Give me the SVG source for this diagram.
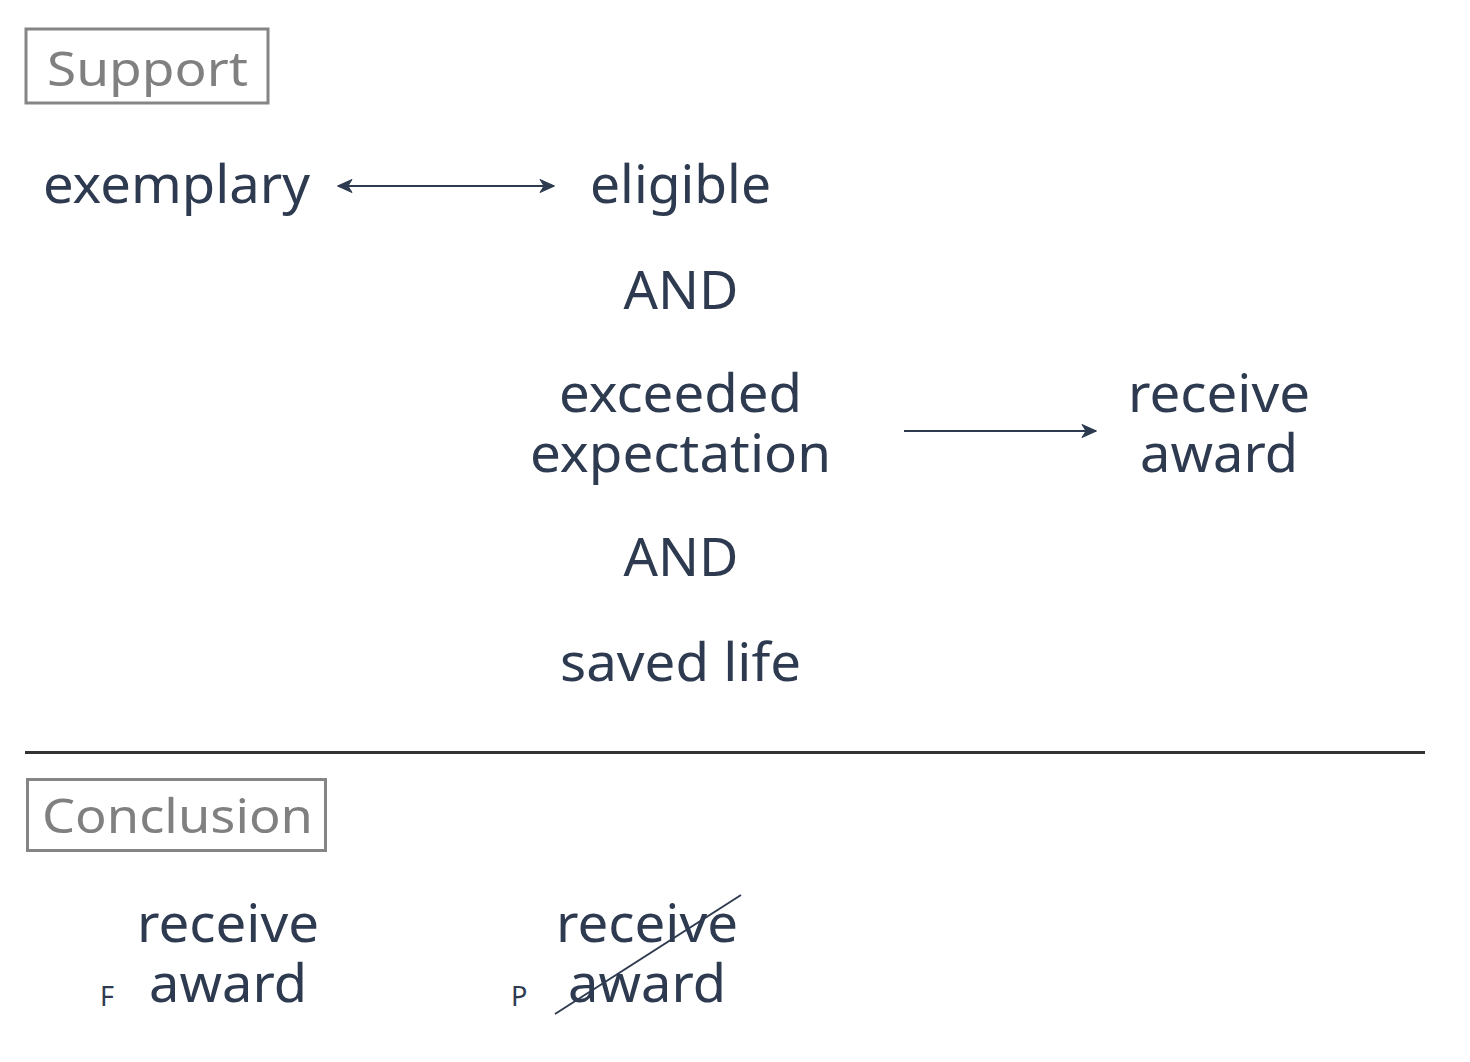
<svg xmlns="http://www.w3.org/2000/svg" width="1470" height="1062" viewBox="0 0 1470 1062">
<style>
.t{font-family:"Noto Sans","Liberation Sans",sans-serif;font-size:52px;fill:#2d3a4f;text-anchor:middle}
.lbl{font-family:"Noto Sans","Liberation Sans",sans-serif;font-size:48px;fill:#808080}
.box{fill:none;stroke:#858585;stroke-width:3}
.sm{font-family:"Noto Sans","Liberation Sans",sans-serif;font-size:27px;fill:#2d3a4f}
.c{stroke:#2d3a4f;stroke-width:2;fill:none}
</style>
<defs>
<marker id="ah" viewBox="0 0 16 16" refX="15" refY="8" markerWidth="16" markerHeight="16" orient="auto-start-reverse" markerUnits="userSpaceOnUse">
<path d="M1,1.5 L15.5,8 L1,14.5 L5,8 Z" fill="#2d3a4f" stroke="#2d3a4f" stroke-width="1" stroke-linejoin="round"/>
</marker>
</defs>
<rect width="1470" height="1062" fill="#ffffff"/>
<g id="support-label">
<rect class="box" x="26" y="29" width="242" height="74"/>
<text class="lbl" x="47" y="86" textLength="201" lengthAdjust="spacingAndGlyphs">Support</text>
</g>
<g id="exemplary"><text class="t" x="176.5" y="203" textLength="267" lengthAdjust="spacingAndGlyphs">exemplary</text></g>
<g id="eligible"><text class="t" x="680.5" y="203" textLength="181" lengthAdjust="spacingAndGlyphs">eligible</text></g>
<g id="and1"><text class="t" x="681" y="309" textLength="115" lengthAdjust="spacingAndGlyphs">AND</text></g>
<g id="exceeded"><text class="t" x="680.5" y="412" textLength="243" lengthAdjust="spacingAndGlyphs">exceeded</text><text class="t" x="680.5" y="472" textLength="301" lengthAdjust="spacingAndGlyphs">expectation</text></g>
<g id="and2"><text class="t" x="681" y="576" textLength="115" lengthAdjust="spacingAndGlyphs">AND</text></g>
<g id="saved"><text class="t" x="680.5" y="681" textLength="241" lengthAdjust="spacingAndGlyphs">saved life</text></g>
<g id="receive-top"><text class="t" x="1219" y="412" textLength="182" lengthAdjust="spacingAndGlyphs">receive</text><text class="t" x="1219" y="472" textLength="158" lengthAdjust="spacingAndGlyphs">award</text></g>
<g id="divider"><line x1="25" y1="752.5" x2="1425" y2="752.5" stroke="#333" stroke-width="3"/></g>
<g id="conclusion-label">
<rect class="box" x="27.5" y="779.5" width="298" height="71"/>
<text class="lbl" x="42" y="833" textLength="271" lengthAdjust="spacingAndGlyphs">Conclusion</text>
</g>
<g id="concl-f">
<text class="t" x="228" y="942" textLength="182" lengthAdjust="spacingAndGlyphs">receive</text><text class="t" x="228" y="1002" textLength="158" lengthAdjust="spacingAndGlyphs">award</text>
<text class="sm" x="100" y="1006">F</text>
</g>
<g id="concl-p">
<text class="t" x="647" y="942" textLength="182" lengthAdjust="spacingAndGlyphs">receive</text><text class="t" x="647" y="1002" textLength="158" lengthAdjust="spacingAndGlyphs">award</text>
<text class="sm" x="511" y="1006">P</text>
<line x1="555" y1="1014" x2="741" y2="895" stroke="#2d3a4f" stroke-width="2"/>
</g>
<g id="connectors">
<line class="c" x1="338" y1="186" x2="554" y2="186" marker-start="url(#ah)" marker-end="url(#ah)"/>
<line class="c" x1="904" y1="431" x2="1096" y2="431" marker-end="url(#ah)"/>
</g>
</svg>
